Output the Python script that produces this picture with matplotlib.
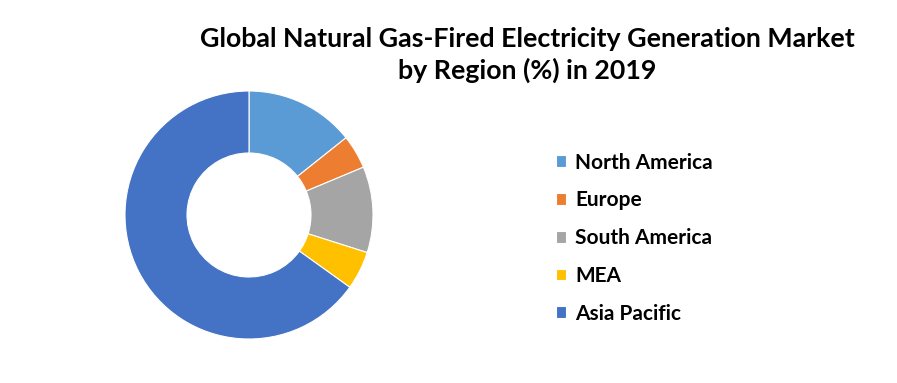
import matplotlib
matplotlib.use("Agg")
import matplotlib.pyplot as plt

regions = ["North America", "Europe", "South America", "MEA", "Asia Pacific"]
shares = [14.3, 4.4, 11.2, 5.0, 65.1]
colors = ["#5B9BD5", "#ED7D31", "#A5A5A5", "#FFC000", "#4472C4"]

title = "Global Natural Gas-Fired Electricity Generation Market\nby Region (%) in 2019"

plt.rcParams['font.family'] = ['Lato', 'DejaVu Sans']

W, H = 897, 383
fig = plt.figure(figsize=(W / 100, H / 100), dpi=100)
fig.patch.set_facecolor("white")

# donut centred at (249, 215) px, outer radius 124 px
cx, cy, r = 249, 215, 124
ax = fig.add_axes([(cx - r) / W, (H - cy - r) / H, 2 * r / W, 2 * r / H])
wedges, _ = ax.pie(shares, colors=colors, startangle=90, counterclock=False,
                   radius=1.0, wedgeprops=dict(width=0.5, edgecolor="white", linewidth=0.8))
ax.set_xlim(-1, 1)
ax.set_ylim(-1, 1)
ax.set_aspect("equal")
ax.axis("off")

fig.text(527 / W, 1 - 55 / H, title, ha="center", va="center",
         fontsize=19.3, fontweight="bold", color="black", linespacing=1.33)

fig.legend(wedges, regions, loc="upper left", bbox_to_anchor=(537 / W, 1 - 134 / H),
           frameon=False, prop=dict(size=15, weight="bold"),
           handlelength=0.5, handleheight=0.5, handletextpad=0.43, labelspacing=0.85)

fig.savefig("out.png", dpi=100, facecolor="white")
